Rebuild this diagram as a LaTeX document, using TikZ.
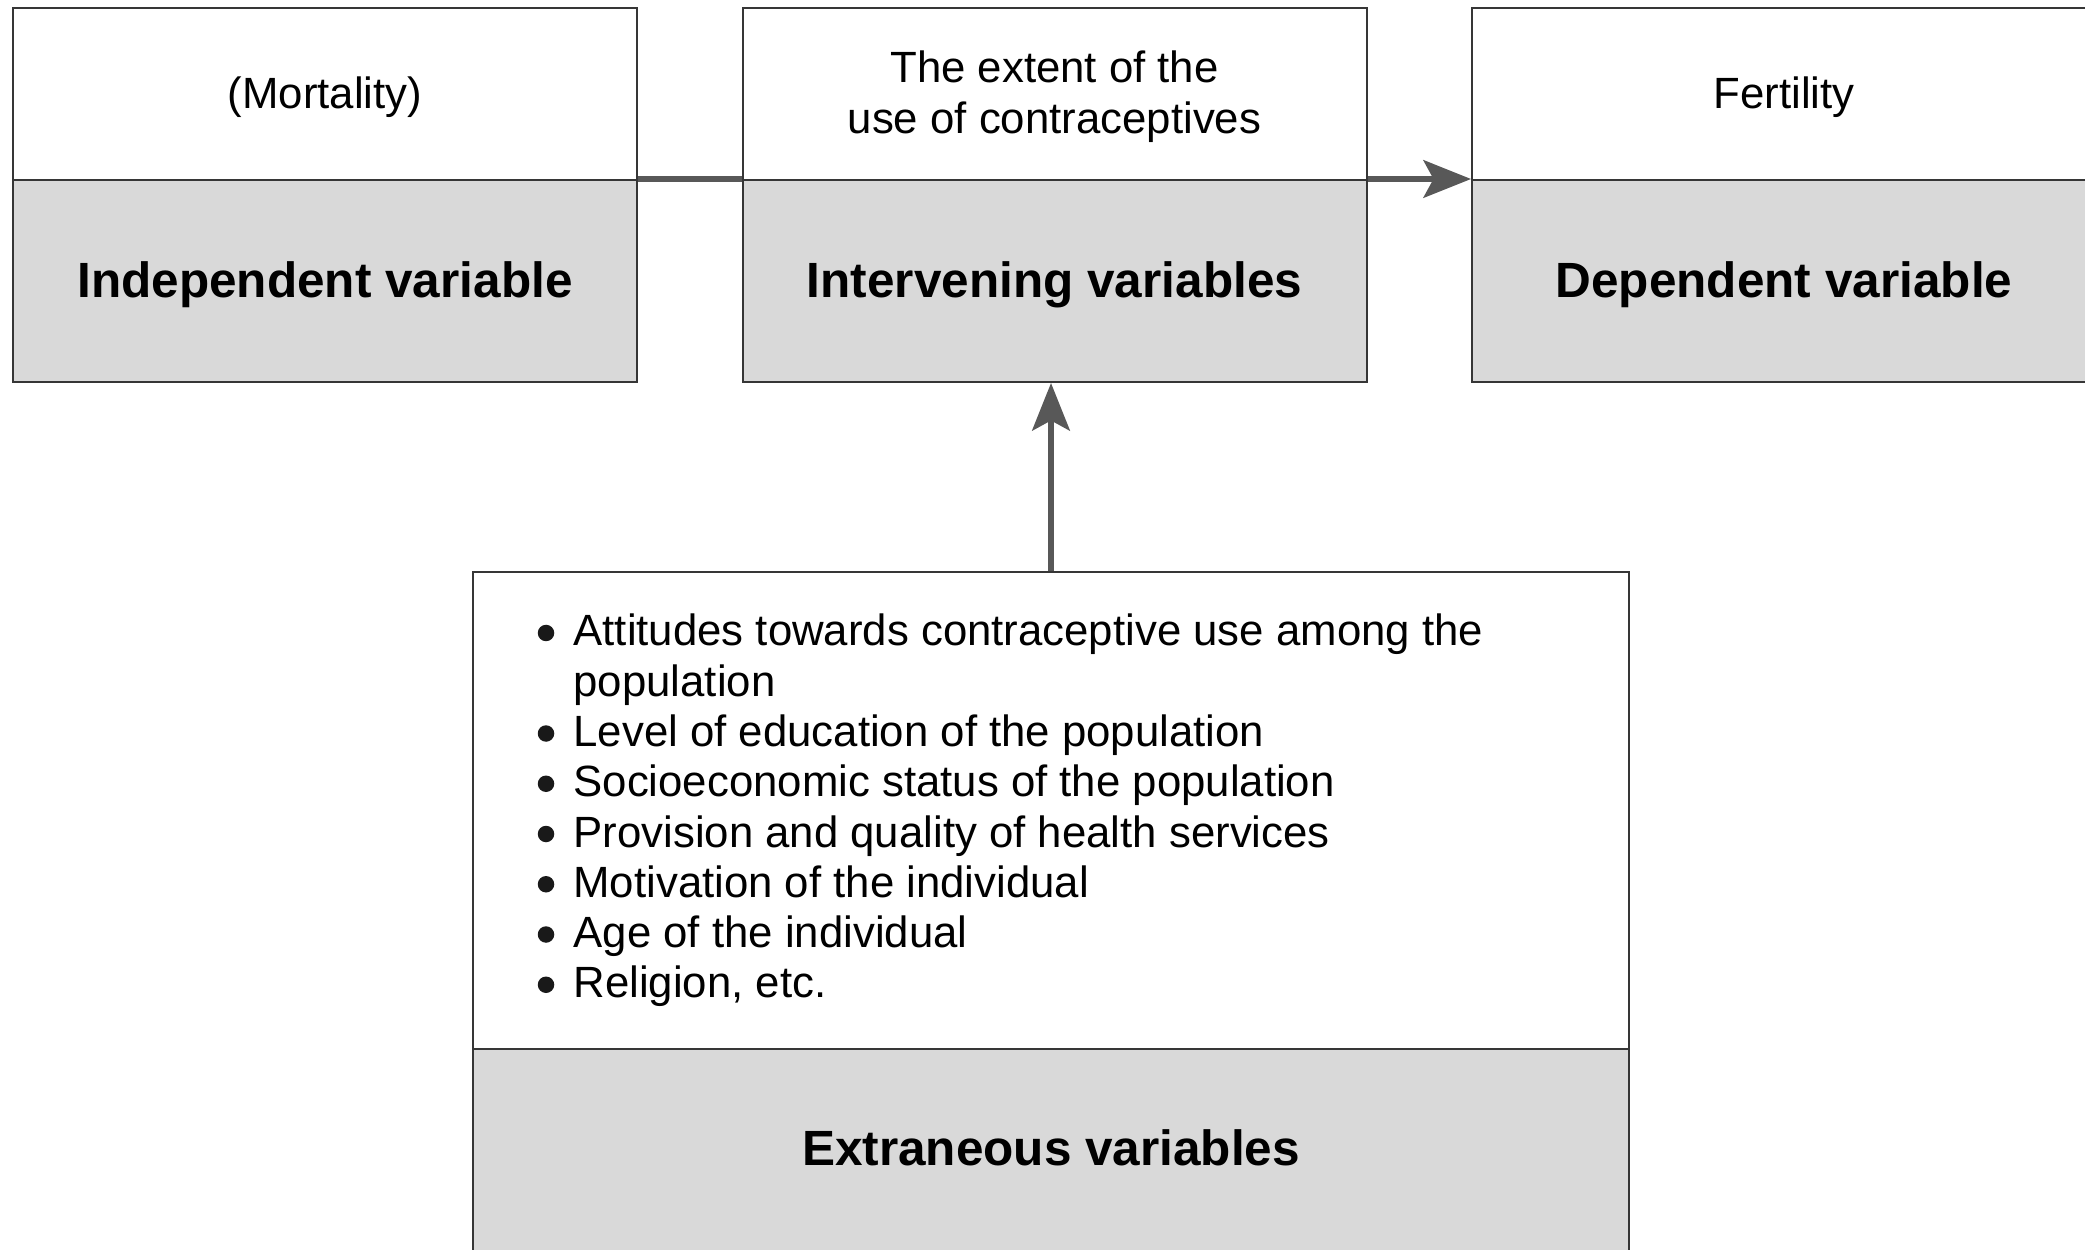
\documentclass[tikz,border=0pt]{standalone}
\usepackage{fontspec}
\setmainfont{Liberation Sans}
\usetikzlibrary{arrows.meta}
\definecolor{bordercol}{HTML}{363636}
\definecolor{fillgray}{HTML}{D9D9D9}
\definecolor{conncol}{HTML}{585858}
\begin{document}
\begin{tikzpicture}[x=0.4pt,y=-0.4pt,
  toppart/.style={draw=bordercol,line width=0.8pt,fill=white,minimum width=249.6pt,minimum height=68.8pt,inner sep=0pt},
  botpart/.style={draw=bordercol,line width=0.8pt,fill=fillgray,minimum width=249.6pt,minimum height=80.8pt,inner sep=0pt},
  toptext/.style={inner sep=0pt,align=center,font=\fontsize{17.5}{20.4}\selectfont},
  bottext/.style={inner sep=0pt,font=\fontsize{19.8}{24}\selectfont\bfseries},
  conn/.style={draw=conncol,line width=2.4pt},
  tipped/.style={-{Stealth[length=19pt,width=15pt,inset=4pt]}},
  bulletdot/.style={fill=black!90}
]
\useasboundingbox (0,0) rectangle (2085,1250);
\clip (0,0) rectangle (2085,1250);
\fill[white] (0,0) rectangle (2085,1250);

% top row boxes
\node[toppart] (indtop) at (325,94) {};
\node[botpart] (indbot) at (325,281) {};
\node[toppart] (inttop) at (1054.5,94) {};
\node[botpart] (intbot) at (1054.5,281) {};
\node[toppart] (deptop) at (1784,94) {};
\node[botpart] (depbot) at (1784,281) {};

% top row texts
\node[toptext] (indtoptxt) at (325,96.7) {(Mortality)};
\node[bottext] (indbottxt) at (325,285) {Independent variable};
\node[toptext] (inttoptxt) at (1054.5,96.7) {The extent of the\\use of contraceptives};
\node[bottext] (intbottxt) at (1054.5,285) {Intervening variables};
\node[toptext] (deptoptxt) at (1784,96.7) {Fertility};
\node[bottext] (depbottxt) at (1784,285) {Dependent variable};

% extraneous box
\node[toppart,minimum width=462.4pt,minimum height=190.8pt] (exttop) at (1051,810.5) {};
\node[botpart,minimum width=462.4pt,minimum height=81.2pt] (extbot) at (1051,1150.5) {};
\node[bottext] (extbottxt) at (1051,1147.8) {Extraneous variables};

\node[anchor=base west,inner sep=0pt,align=left,font=\fontsize{17.5}{20.1}\selectfont] (list) at (573,646)
{\begin{tabular}[t]{@{}l@{}}
Attitudes towards contraceptive use among the\\
population\\
Level of education of the population\\
Socioeconomic status of the population\\
Provision and quality of health services\\
Motivation of the individual\\
Age of the individual\\
Religion, etc.
\end{tabular}};

% bullets
\foreach \k in {0,2,3,4,5,6,7}
  \fill[bulletdot] ([shift={(-27,{\k*50.25-13})}]list.base west) circle[radius=3.3pt];

% connectors
\draw[conn] (indbot.north east) -- (intbot.north west);
\draw[conn,tipped] (intbot.north east) -- (depbot.north west);
\draw[conn,tipped] (exttop.north) -- (exttop.north |- intbot.south);
\end{tikzpicture}
\end{document}
